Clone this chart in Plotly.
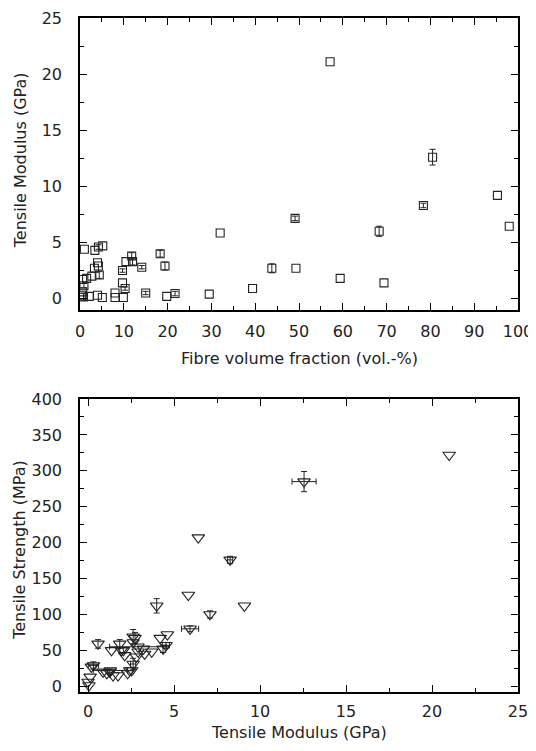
import plotly.graph_objects as go

# Top panel: fibre volume fraction (vol.-%) vs tensile modulus (GPa)
top_vf = [57.1, 80.5, 95.3, 98.0, 78.4, 68.3, 59.4, 69.4, 49.1, 32.0,
          43.8, 49.3, 39.4, 29.5, 21.7, 19.8, 19.4, 18.3, 15.0, 14.1,
          12.0, 11.8, 10.5, 9.7, 9.7, 10.3, 9.9, 8.0, 8.0, 5.2,
          4.2, 3.4, 1.0, 4.0, 4.2, 3.3, 4.4, 2.7, 1.5, 0.6,
          0.9, 0.6, 0.8, 2.1, 4.0, 5.1, 0.5]
top_mod = [21.1, 12.6, 9.2, 6.45, 8.3, 6.0, 1.8, 1.4, 7.15, 5.85,
           2.7, 2.7, 0.9, 0.4, 0.45, 0.2, 2.9, 4.0, 0.5, 2.8,
           3.3, 3.8, 3.3, 2.5, 1.4, 0.9, 0.1, 0.5, 0.1, 4.7,
           4.6, 4.3, 4.4, 3.2, 2.9, 2.7, 2.1, 2.0, 1.8, 1.7,
           1.15, 0.6, 0.15, 0.2, 0.3, 0.1, 0.3]
top_mod_err = [0, 0.7, 0, 0, 0.2, 0.45, 0, 0, 0.2, 0,
               0.4, 0, 0, 0, 0.2, 0, 0.35, 0.3, 0.15, 0.15,
               0.3, 0.3, 0, 0.15, 0, 0.15, 0, 0, 0, 0,
               0.2, 0, 0, 0, 0, 0, 0.3, 0, 0, 0,
               0.2, 0, 0.3, 0, 0, 0, 0]

# Bottom panel: tensile modulus (GPa) vs tensile strength (MPa)
bot_mod = [12.56, 21.0, 6.41, 8.26, 5.83, 9.09, 3.99, 7.09, 5.93, 4.61,
           4.19, 4.53, 4.36, 3.70, 3.29, 2.62, 2.62, 2.81, 2.62, 2.91,
           2.13, 1.94, 1.84, 1.36, 0.58, 0.31, 0.19, 0.87, 1.26, 1.74,
           1.45, 2.42, 2.54, 0.12, 0.0, 0.05, 2.3, 1.09, 2.9, 1.3,
           3.22, 2.05, 2.73]
bot_str = [285, 322, 207, 176, 127, 112, 112, 100, 80, 72,
           67, 57, 52, 48, 45, 69, 61, 41, 31, 48,
           43, 50, 59, 50, 59, 29, 27, 20, 20, 15,
           15, 22, 22, 13, 6, 1, 18, 18, 55, 22,
           52, 50, 67]
bot_str_err = [14, 0, 0, 5, 0, 0, 10, 5, 4, 0,
               0, 4, 5, 0, 0, 10, 0, 0, 8, 0,
               0, 0, 6, 0, 6, 5, 0, 0, 4, 0,
               0, 0, 0, 0, 0, 0, 0, 0, 0, 0,
               0, 4, 8]
bot_mod_err = [0.7, 0, 0, 0.15, 0, 0, 0, 0, 0.5, 0,
               0, 0.2, 0, 0, 0, 0, 0, 0, 0.15, 0,
               0, 0, 0, 0, 0, 0.3, 0, 0, 0, 0,
               0, 0, 0, 0, 0, 0, 0, 0, 1.65, 1.0,
               0, 0, 0]

FONT = "DejaVu Sans"
INK = "#222"
fig = go.Figure()


def add_group(xs, ys, ex, ey, idx, symbol, size, xa, ya):
    if not idx:
        return
    tr = dict(
        x=[xs[i] for i in idx], y=[ys[i] for i in idx], mode="markers",
        marker=dict(symbol=symbol, size=size, color=INK,
                    line=dict(width=1.1, color=INK)),
        xaxis=xa, yaxis=ya, showlegend=False, hoverinfo="x+y")
    if ey is not None and any(ey[i] for i in idx):
        tr["error_y"] = dict(type="data", array=[ey[i] for i in idx],
                             visible=True, color=INK, thickness=1, width=3)
    if ex is not None and any(ex[i] for i in idx):
        tr["error_x"] = dict(type="data", array=[ex[i] for i in idx],
                             visible=True, color=INK, thickness=1, width=3)
    fig.add_trace(go.Scatter(**tr))


# top panel: points with and without error bars
n_top = len(top_vf)
add_group(top_vf, top_mod, None, top_mod_err,
          [i for i in range(n_top) if top_mod_err[i]], "square-open", 8, "x", "y")
add_group(top_vf, top_mod, None, None,
          [i for i in range(n_top) if not top_mod_err[i]], "square-open", 8, "x", "y")

# bottom panel: four groups by which error bars exist
n_bot = len(bot_mod)
for hx in (True, False):
    for hy in (True, False):
        idx = [i for i in range(n_bot)
               if bool(bot_mod_err[i]) == hx and bool(bot_str_err[i]) == hy]
        add_group(bot_mod, bot_str,
                  bot_mod_err if hx else None, bot_str_err if hy else None,
                  idx, "triangle-down-open", 11, "x2", "y2")

axis_common = dict(
    showline=True, linecolor="black", linewidth=1.5, mirror="allticks",
    ticks="inside", ticklen=7, tickwidth=1.2, tickcolor="black",
    showgrid=False, zeroline=False, automargin=False,
    tickfont=dict(family=FONT, size=16, color=INK),
)
minor_common = dict(ticks="inside", ticklen=4, tickcolor="black", tickwidth=1)

fig.update_layout(
    width=528, height=743,
    margin=dict(l=72, r=18, t=10, b=59),
    paper_bgcolor="white", plot_bgcolor="white",
    font=dict(family=FONT, size=16, color=INK),
    xaxis=dict(domain=[0, 1], anchor="y", range=[0, 100],
               tickvals=list(range(0, 101, 10)), ticklabelstandoff=6,
               minor=dict(dtick=5, **minor_common), **axis_common),
    yaxis=dict(domain=[0.567, 1], anchor="x", range=[-1, 25],
               tickvals=list(range(0, 26, 5)), ticklabelstandoff=13,
               minor=dict(dtick=2.5, **minor_common), **axis_common),
    xaxis2=dict(domain=[0, 1], anchor="y2", range=[-0.47, 25],
                tickvals=list(range(0, 26, 5)), ticklabelstandoff=4,
                minor=dict(dtick=2.5, **minor_common), **axis_common),
    yaxis2=dict(domain=[0, 0.4347], anchor="x2", range=[-8, 400],
                tickvals=list(range(0, 401, 50)), ticklabelstandoff=13,
                minor=dict(dtick=25, **minor_common), **axis_common),
)

title_font = dict(family=FONT, size=16, color=INK)
annos = [
    dict(text="Fibre volume fraction (vol.-%)", x=0.5, y=0.4955),
    dict(text="Tensile Modulus (GPa)", x=0.5, y=-0.06),
    dict(text="Tensile Modulus (GPa)", x=-0.137, y=0.789, textangle=-90),
    dict(text="Tensile Strength (MPa)", x=-0.137, y=0.211, textangle=-90),
]
for a in annos:
    fig.add_annotation(xref="paper", yref="paper", showarrow=False,
                       xanchor="center", yanchor="middle",
                       font=title_font, **a)

fig.write_html("out.html")
